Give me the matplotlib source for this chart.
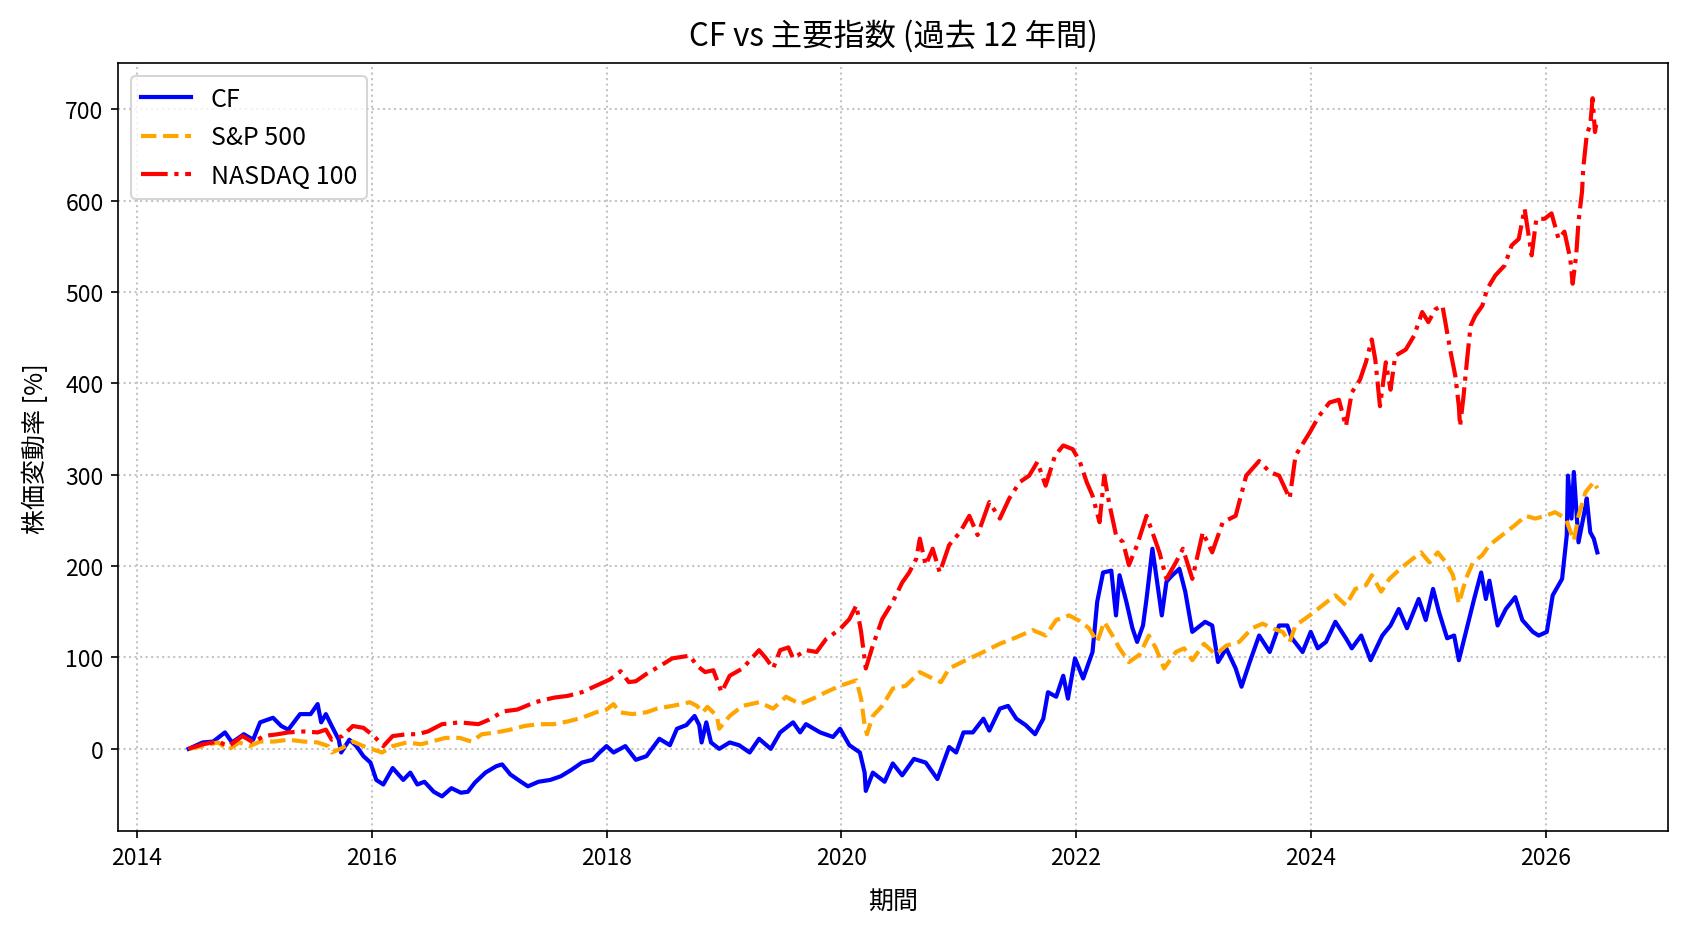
import matplotlib
matplotlib.use("Agg")
import matplotlib.pyplot as plt
import matplotlib.dates as mdates
import pandas as pd

plt.rcParams['font.family'] = ['Noto Sans CJK JP', 'DejaVu Sans']
plt.rcParams['axes.unicode_minus'] = False

# 値は図から読み取ったもの (年は小数表記, 値は % 変動)
cf_t = [2014.44, 2014.56, 2014.65, 2014.75, 2014.81, 2014.91, 2014.99, 2015.05, 2015.16, 2015.23,
        2015.29, 2015.39, 2015.48, 2015.54, 2015.57, 2015.61, 2015.66, 2015.72, 2015.74, 2015.81,
        2015.87, 2015.93, 2015.99, 2016.04, 2016.10, 2016.18, 2016.27, 2016.33, 2016.39, 2016.45,
        2016.53, 2016.60, 2016.68, 2016.76, 2016.82, 2016.88, 2016.97, 2017.06, 2017.11, 2017.18,
        2017.27, 2017.33, 2017.42, 2017.52, 2017.61, 2017.70, 2017.79, 2017.88, 2017.94, 2018.00,
        2018.06, 2018.16, 2018.25, 2018.34, 2018.45, 2018.54, 2018.60, 2018.68, 2018.75, 2018.79,
        2018.81, 2018.85, 2018.89, 2018.96, 2019.05, 2019.13, 2019.22, 2019.30, 2019.40, 2019.48,
        2019.59, 2019.65, 2019.70, 2019.82, 2019.93, 2019.99, 2020.07, 2020.16, 2020.20, 2020.21,
        2020.27, 2020.37, 2020.44, 2020.52, 2020.62, 2020.72, 2020.82, 2020.92, 2020.98, 2021.04,
        2021.12, 2021.21, 2021.26, 2021.35, 2021.42, 2021.49, 2021.57, 2021.65, 2021.72, 2021.76,
        2021.83, 2021.89, 2021.93, 2021.99, 2022.06, 2022.14, 2022.18, 2022.23, 2022.30, 2022.34,
        2022.37, 2022.43, 2022.48, 2022.52, 2022.57, 2022.60, 2022.65, 2022.69, 2022.73, 2022.77,
        2022.82, 2022.88, 2022.93, 2022.99, 2023.10, 2023.16, 2023.21, 2023.28, 2023.36, 2023.41,
        2023.48, 2023.56, 2023.65, 2023.73, 2023.80, 2023.84, 2023.93, 2024.00, 2024.06, 2024.13,
        2024.21, 2024.30, 2024.35, 2024.43, 2024.51, 2024.61, 2024.68, 2024.75, 2024.82, 2024.92,
        2024.98, 2025.04, 2025.09, 2025.16, 2025.22, 2025.26, 2025.32, 2025.39, 2025.45, 2025.49,
        2025.52, 2025.59, 2025.66, 2025.74, 2025.80, 2025.89, 2025.94, 2026.01, 2026.06, 2026.14,
        2026.18, 2026.19, 2026.22, 2026.24, 2026.28, 2026.33, 2026.35, 2026.38, 2026.41, 2026.44]
cf_v = [0, 7, 8, 18, 7, 16, 10, 29, 34, 25,
        21, 38, 38, 49, 29, 38, 25, 10, -4, 10,
        3, -8, -15, -34, -39, -21, -34, -26, -39, -36,
        -47, -52, -43, -48, -47, -37, -26, -19, -17, -28,
        -36, -41, -36, -34, -30, -23, -15, -12, -4, 3,
        -4, 3, -12, -8, 11, 4, 22, 26, 36, 26,
        7, 29, 7, 0, 7, 4, -4, 11, 0, 18,
        29, 18, 27, 18, 13, 22, 4, -4, -26, -46,
        -26, -36, -16, -29, -11, -15, -33, 2, -4, 18,
        18, 33, 20, 44, 47, 33, 26, 16, 33, 62,
        57, 80, 55, 99, 77, 106, 161, 193, 195, 146,
        190, 160, 132, 117, 135, 164, 219, 183, 146, 183,
        190, 197, 172, 128, 139, 135, 95, 110, 88, 68,
        95, 124, 106, 135, 135, 121, 106, 128, 110, 117,
        139, 121, 110, 124, 97, 124, 135, 153, 132, 164,
        141, 175, 150, 121, 124, 97, 128, 164, 193, 164,
        184, 135, 153, 166, 141, 128, 124, 128, 168, 186,
        234, 299, 252, 303, 226, 259, 274, 237, 230, 215]

sp_t = [2014.44, 2014.56, 2014.69, 2014.78, 2014.87, 2014.96, 2015.05, 2015.17, 2015.29, 2015.42,
        2015.54, 2015.63, 2015.66, 2015.75, 2015.84, 2015.93, 2016.02, 2016.09, 2016.18, 2016.30,
        2016.42, 2016.51, 2016.63, 2016.75, 2016.85, 2016.94, 2017.06, 2017.18, 2017.30, 2017.42,
        2017.55, 2017.67, 2017.79, 2017.91, 2018.00, 2018.06, 2018.11, 2018.22, 2018.34, 2018.43,
        2018.56, 2018.71, 2018.77, 2018.82, 2018.86, 2018.94, 2018.96, 2019.05, 2019.16, 2019.30,
        2019.42, 2019.53, 2019.65, 2019.76, 2019.87, 2019.99, 2020.13, 2020.17, 2020.20, 2020.22,
        2020.27, 2020.35, 2020.44, 2020.55, 2020.67, 2020.78, 2020.85, 2020.92, 2021.06, 2021.21,
        2021.35, 2021.49, 2021.63, 2021.74, 2021.83, 2021.94, 2022.03, 2022.11, 2022.18, 2022.24,
        2022.31, 2022.37, 2022.45, 2022.54, 2022.62, 2022.68, 2022.75, 2022.85, 2022.92, 2022.99,
        2023.09, 2023.19, 2023.28, 2023.39, 2023.50, 2023.59, 2023.67, 2023.76, 2023.82, 2023.87,
        2023.99, 2024.10, 2024.21, 2024.30, 2024.38, 2024.47, 2024.52, 2024.60, 2024.67, 2024.78,
        2024.87, 2024.94, 2025.01, 2025.08, 2025.15, 2025.21, 2025.26, 2025.32, 2025.38, 2025.46,
        2025.52, 2025.63, 2025.74, 2025.83, 2025.91, 2026.00, 2026.08, 2026.17, 2026.24, 2026.28,
        2026.34, 2026.41, 2026.44]
sp_v = [0, 3, 7, -1, 7, 3, 8, 8, 10, 8,
        7, 3, -4, 1, 8, 3, -1, -4, 3, 7,
        5, 8, 12, 12, 8, 16, 18, 21, 25, 27,
        27, 30, 34, 40, 43, 49, 40, 38, 40, 44,
        47, 51, 47, 40, 46, 36, 22, 36, 47, 51,
        44, 57, 49, 55, 62, 69, 75, 55, 26, 16,
        36, 47, 66, 69, 84, 77, 73, 88, 97, 106,
        115, 122, 130, 124, 141, 146, 140, 132, 117, 139,
        124, 110, 95, 103, 124, 110, 88, 106, 110, 97,
        115, 103, 113, 117, 132, 137, 132, 128, 117, 135,
        146, 157, 168, 157, 175, 179, 190, 172, 186, 199,
        208, 215, 204, 215, 204, 190, 159, 186, 204, 212,
        223, 234, 245, 255, 252, 255, 259, 252, 228, 255,
        281, 292, 285]

nq_t = [2014.44, 2014.56, 2014.69, 2014.78, 2014.90, 2014.99, 2015.08, 2015.20, 2015.29, 2015.42,
        2015.54, 2015.61, 2015.66, 2015.75, 2015.84, 2015.93, 2016.02, 2016.10, 2016.18, 2016.30,
        2016.39, 2016.48, 2016.60, 2016.75, 2016.91, 2017.00, 2017.12, 2017.24, 2017.39, 2017.55,
        2017.67, 2017.79, 2017.91, 2018.03, 2018.12, 2018.19, 2018.25, 2018.34, 2018.46, 2018.56,
        2018.71, 2018.77, 2018.84, 2018.91, 2018.98, 2019.05, 2019.16, 2019.30, 2019.36, 2019.42,
        2019.48, 2019.55, 2019.59, 2019.70, 2019.79, 2019.87, 2019.99, 2020.07, 2020.13, 2020.17,
        2020.21, 2020.27, 2020.35, 2020.44, 2020.52, 2020.58, 2020.64, 2020.67, 2020.72, 2020.78,
        2020.84, 2020.92, 2021.01, 2021.09, 2021.16, 2021.26, 2021.35, 2021.43, 2021.52, 2021.60,
        2021.67, 2021.74, 2021.82, 2021.89, 2021.97, 2022.03, 2022.09, 2022.14, 2022.20, 2022.24,
        2022.28, 2022.34, 2022.40, 2022.45, 2022.52, 2022.60, 2022.65, 2022.71, 2022.77, 2022.85,
        2022.91, 2022.99, 2023.08, 2023.16, 2023.25, 2023.36, 2023.45, 2023.56, 2023.65, 2023.73,
        2023.82, 2023.87, 2023.99, 2024.07, 2024.16, 2024.24, 2024.30, 2024.35, 2024.42, 2024.47,
        2024.52, 2024.55, 2024.59, 2024.64, 2024.68, 2024.72, 2024.81, 2024.88, 2024.95, 2025.00,
        2025.06, 2025.12, 2025.15, 2025.19, 2025.23, 2025.26, 2025.27, 2025.30, 2025.33, 2025.36,
        2025.40, 2025.46, 2025.50, 2025.57, 2025.65, 2025.71, 2025.77, 2025.82, 2025.88, 2025.92,
        2025.99, 2026.05, 2026.11, 2026.16, 2026.21, 2026.23, 2026.26, 2026.28, 2026.31, 2026.32,
        2026.35, 2026.38, 2026.40, 2026.42, 2026.43]
nq_v = [0, 5, 8, 3, 14, 7, 14, 16, 18, 19,
        18, 21, 10, 14, 25, 23, 14, 3, 14, 16,
        16, 19, 27, 29, 27, 32, 41, 43, 51, 56,
        58, 62, 69, 76, 85, 73, 74, 82, 91, 99,
        102, 91, 84, 86, 62, 80, 88, 108, 99, 88,
        108, 111, 99, 108, 106, 120, 131, 142, 157, 128,
        88, 113, 142, 161, 182, 193, 208, 230, 201, 219,
        193, 223, 237, 255, 234, 270, 252, 274, 292, 299,
        314, 288, 321, 332, 328, 315, 292, 277, 248, 299,
        270, 234, 226, 201, 223, 255, 237, 215, 186, 204,
        219, 186, 237, 215, 248, 255, 299, 315, 303, 299,
        274, 321, 346, 364, 379, 382, 353, 390, 404, 423,
        448, 426, 375, 423, 393, 430, 437, 452, 478, 467,
        481, 485, 463, 434, 408, 375, 353, 386, 426, 463,
        474, 485, 503, 518, 529, 551, 558, 591, 540, 580,
        580, 586, 558, 566, 536, 509, 540, 577, 610, 635,
        672, 683, 712, 675, 683]


def to_dates(years):
    out = []
    for y in years:
        base = int(y)
        out.append(pd.Timestamp(year=base, month=1, day=1) + pd.Timedelta(days=(y - base) * 365.25))
    return out


fig, ax = plt.subplots(figsize=(1688 / 150, 932 / 150), dpi=150)
fig.subplots_adjust(left=0.070, right=0.988, top=0.931, bottom=0.107)

ax.plot(to_dates(cf_t), cf_v, color='blue', linestyle='-', linewidth=2, label='CF')
ax.plot(to_dates(sp_t), sp_v, color='orange', linestyle='--', linewidth=2, label='S&P 500')
ax.plot(to_dates(nq_t), nq_v, color='red', linestyle='-.', linewidth=2, label='NASDAQ 100')

ax.xaxis.set_major_locator(mdates.YearLocator(2))
ax.xaxis.set_major_formatter(mdates.DateFormatter('%Y'))
ax.tick_params(labelsize=11)

ax.set_title('CF vs 主要指数 (過去 12 年間)', fontsize=15, pad=9)
ax.set_xlabel('期間', fontsize=12, labelpad=9)
ax.set_ylabel('株価変動率 [%]', fontsize=12, labelpad=8)
ax.grid(True, linestyle=':', color='#c4c4c4', linewidth=1)
ax.legend(loc='upper left', fontsize=12)

fig.savefig('out.png', dpi=150)
plt.close(fig)
